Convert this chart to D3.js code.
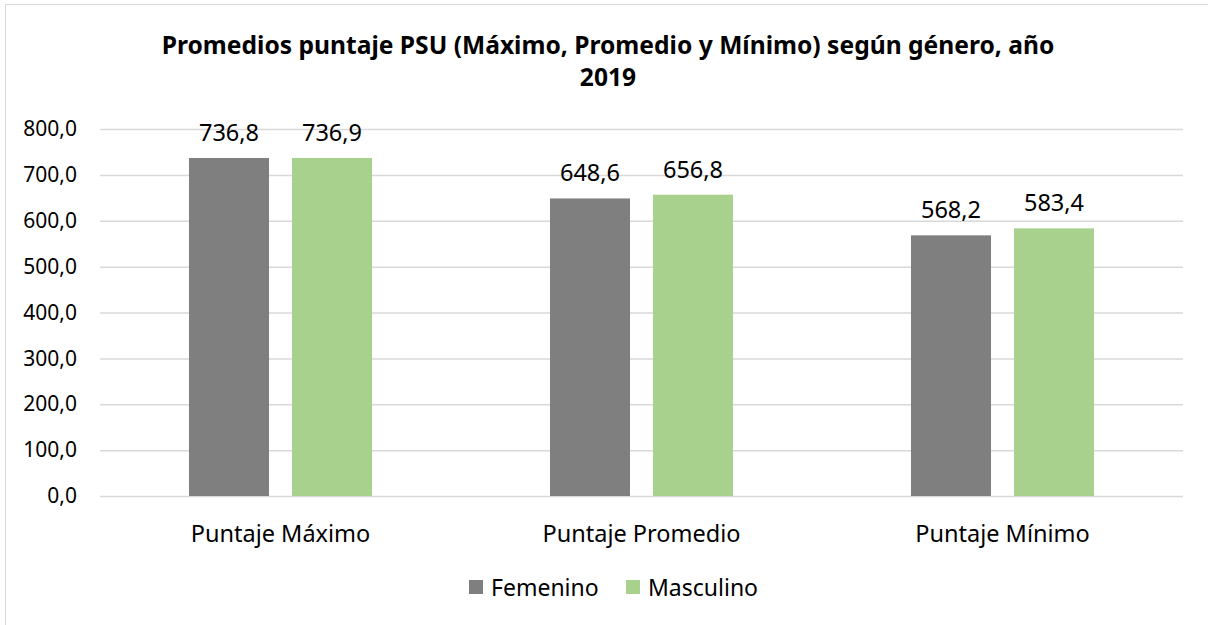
<!DOCTYPE html>
<html>
<head>
<meta charset="utf-8">
<script src="https://cdn.jsdelivr.net/npm/d3@7"></script>
<style>
  body { margin: 0; background: #fff; }
  text { font-family: "Noto Sans", "Open Sans", sans-serif; fill: #000; }
</style>
</head>
<body>
<svg id="chart" width="1208" height="625"></svg>
<script>
// categories and series
var categories = ["Puntaje Máximo", "Puntaje Promedio", "Puntaje Mínimo"]
var seriesNames = ["Femenino", "Masculino"]
var femenino = [736.8, 648.6, 568.2]
var masculino = [736.9, 656.8, 583.4]
var yTicks = [0, 100, 200, 300, 400, 500, 600, 700, 800]

var colors = ["#7f7f7f", "#a9d18e"]

var svg = d3.select("#chart")

// outer chart border
svg.append("rect")
    .attr("x", 5.5).attr("y", 4.5)
    .attr("width", 1220).attr("height", 640)
    .attr("fill", "none")
    .attr("stroke", "#d9d9d9")

var plotLeft = 100, plotRight = 1183, plotTop = 129, plotBottom = 496

var y = d3.scaleLinear().domain([0, 800]).range([plotBottom, plotTop])
var x = d3.scaleBand().domain(categories).range([plotLeft, plotRight])
    .paddingInner(0.493).paddingOuter(0.2465)
var xs = d3.scaleBand().domain(seriesNames).range([0, x.bandwidth()])
    .paddingInner(0.223)

// title
var title = svg.append("text")
    .attr("text-anchor", "middle")
    .attr("font-weight", "bold")
    .attr("font-size", 24.6)
title.append("tspan").attr("x", 608).attr("y", 54)
    .text("Promedios puntaje PSU (Máximo, Promedio y Mínimo) según género, año")
title.append("tspan").attr("x", 608).attr("y", 86).text("2019")

// y axis with gridlines
var fmt = function (d) { return d3.format(".1f")(d).replace(".", ",") }
var yAxis = svg.append("g")
    .attr("transform", "translate(" + plotLeft + ",0)")
    .call(d3.axisLeft(y).tickValues(yTicks).tickSize(-(plotRight - plotLeft)).tickPadding(23).tickFormat(fmt))
yAxis.select(".domain").remove()
yAxis.selectAll(".tick line").attr("stroke", "#d9d9d9").attr("stroke-width", 1.5)
yAxis.selectAll(".tick text").attr("font-size", 21)
    .attr("font-family", "Noto Sans").attr("fill", "#000")

// bars
var rows = categories.map(function (c, i) {
    return { cat: c, vals: [femenino[i], masculino[i]] }
})

var groups = svg.selectAll(".grp").data(rows).join("g")
    .attr("class", "grp")
    .attr("transform", function (d) { return "translate(" + x(d.cat) + ",0)" })

groups.selectAll("rect").data(function (d) {
    return d.vals.map(function (v, j) { return { s: seriesNames[j], v: v, j: j } })
}).join("rect")
    .attr("x", function (d) { return xs(d.s) })
    .attr("y", function (d) { return y(d.v) })
    .attr("width", xs.bandwidth())
    .attr("height", function (d) { return y(0) - y(d.v) })
    .attr("fill", function (d) { return colors[d.j] })

groups.selectAll(".lbl").data(function (d) {
    return d.vals.map(function (v, j) { return { s: seriesNames[j], v: v } })
}).join("text")
    .attr("class", "lbl")
    .attr("x", function (d) { return xs(d.s) + xs.bandwidth() / 2 })
    .attr("y", function (d) { return y(d.v) - 17 })
    .attr("text-anchor", "middle")
    .attr("font-size", 23.5)
    .text(function (d) { return fmt(d.v) })

// category labels
svg.selectAll(".cat").data(categories).join("text")
    .attr("class", "cat")
    .attr("x", function (d) { return x(d) + x.bandwidth() / 2 })
    .attr("y", 542)
    .attr("text-anchor", "middle")
    .attr("font-size", 23.5)
    .text(function (d) { return d })

// legend
var legendX = [469, 626]
var leg = svg.selectAll(".leg").data(seriesNames).join("g")
    .attr("class", "leg")
    .attr("transform", function (d, i) { return "translate(" + legendX[i] + ",580)" })
leg.append("rect").attr("width", 14).attr("height", 14)
    .attr("fill", function (d, i) { return colors[i] })
leg.append("text").attr("x", 22).attr("y", 16)
    .attr("font-size", 23)
    .text(function (d) { return d })
</script>
</body>
</html>
